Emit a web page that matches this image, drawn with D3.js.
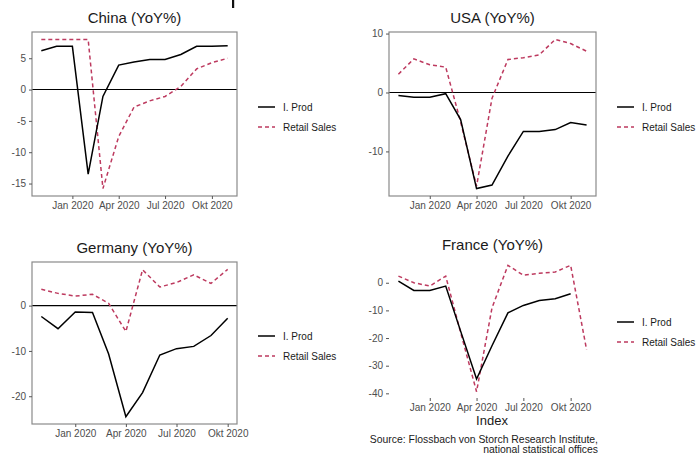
<!DOCTYPE html>
<html>
<head>
<meta charset="utf-8">
<script src="https://cdn.jsdelivr.net/npm/d3@7"></script>
<style>
  html, body { margin: 0; padding: 0; background: #fff; }
  svg { display: block; font-family: "Liberation Sans", Arial, sans-serif; }
</style>
</head>
<body>
<svg id="chart" width="698" height="456"></svg>
<script>
// ---------- DATA ----------
const monthsFull = ["2019-11","2019-12","2020-01","2020-02","2020-03","2020-04","2020-05","2020-06","2020-07","2020-08","2020-09","2020-10","2020-11"];
const monthsToOct = monthsFull.slice(0, 12);

const chinaProd   = [6.2, 6.9, 6.9, -13.5, -1.1, 3.9, 4.4, 4.8, 4.8, 5.6, 6.9, 6.9, 7.0];
const chinaRetail = [8.0, 8.0, 8.0, 8.0, -15.8, -7.5, -2.8, -1.8, -1.1, 0.5, 3.3, 4.3, 5.0];

const usaProd   = [-0.5, -0.8, -0.8, -0.2, -4.6, -16.3, -15.7, -10.8, -6.6, -6.6, -6.3, -5.1, -5.5];
const usaRetail = [3.1, 5.7, 4.7, 4.3, -5.0, -15.9, -1.0, 5.6, 5.9, 6.4, 9.0, 8.3, 7.0];

const germanyProd   = [-2.4, -5.1, -1.4, -1.5, -10.7, -24.5, -19.2, -10.9, -9.5, -9.0, -6.6, -2.8];
const germanyRetail = [3.6, 2.7, 2.1, 2.5, 0.5, -5.7, 7.9, 4.1, 5.1, 6.8, 4.9, 8.0];

const franceProd   = [0.6, -2.8, -2.8, -1.2, -17.5, -34.8, -22.8, -10.9, -8.2, -6.4, -5.8, -4.0];
const franceRetail = [2.4, 0.0, -1.2, 2.4, -18.0, -39.4, -9.1, 6.3, 2.7, 3.4, 3.9, 6.3, -24.2];

const xTickDates  = ["2020-01","2020-04","2020-07","2020-10"];
const xTickLabels = ["Jan 2020","Apr 2020","Jul 2020","Okt 2020"];

const chinaTicks   = [-15, -10, -5, 0, 5];
const usaTicks     = [-10, 0, 10];
const germanyTicks = [-20, -10, 0];
const franceTicks  = [-40, -30, -20, -10, 0];

const seriesNames = ["I. Prod", "Retail Sales"];
const titles = ["China (YoY%)", "USA (YoY%)", "Germany (YoY%)", "France (YoY%)"];

// ---------- LAYOUT ----------
const svg = d3.select("#chart");
const parse = d3.utcParse("%Y-%m");
const RETAIL = "#bd3a5f";

const panels = [
  { title: titles[0], x0: 32,  x1: 237, y0: 32,  y1: 196, dates: monthsFull, prodDates: monthsFull, prod: chinaProd, retail: chinaRetail, ticks: chinaTicks, box: true, zero: true, legY: 107 },
  { title: titles[1], x0: 389, x1: 596, y0: 32,  y1: 196, dates: monthsFull, prodDates: monthsFull, prod: usaProd, retail: usaRetail, ticks: usaTicks, box: true, zero: true, legY: 107 },
  { title: titles[2], x0: 32,  x1: 237, y0: 262, y1: 424, dates: monthsToOct, prodDates: monthsToOct, prod: germanyProd, retail: germanyRetail, ticks: germanyTicks, box: true, zero: true, legY: 336 },
  { title: titles[3], x0: 389, x1: 596, y0: 259, y1: 398, dates: monthsFull, prodDates: monthsToOct, prod: franceProd, retail: franceRetail, ticks: franceTicks, box: false, zero: false, legY: 322 }
];

panels.forEach(p => {
  const allDates = p.dates.map(parse);
  const [dmin, dmax] = d3.extent(allDates);
  const span = dmax - dmin;
  const x = d3.scaleUtc()
    .domain([new Date(+dmin - 0.05 * span), new Date(+dmax + 0.05 * span)])
    .range([p.x0, p.x1]);

  const vals = p.prod.concat(p.retail);
  const [vmin, vmax] = d3.extent(vals);
  const vs = vmax - vmin;
  const y = d3.scaleLinear()
    .domain([vmin - 0.05 * vs, vmax + 0.05 * vs])
    .range([p.y1, p.y0]);

  const g = svg.append("g");

  // title
  g.append("text")
    .attr("x", (p.x0 + p.x1) / 2)
    .attr("y", p.y0 - 9)
    .attr("text-anchor", "middle")
    .attr("font-size", 15)
    .attr("fill", "#1a1a1a")
    .text(p.title);

  // zero line
  if (p.zero) {
    g.append("line")
      .attr("x1", p.x0).attr("x2", p.x1)
      .attr("y1", y(0)).attr("y2", y(0))
      .attr("stroke", "#000").attr("stroke-width", 1.1);
  }

  // lines
  const line = d3.line().x(d => x(d[0])).y(d => y(d[1]));
  const prodData = p.prodDates.map((d, i) => [parse(d), p.prod[i]]);
  const retailData = p.dates.map((d, i) => [parse(d), p.retail[i]]);

  g.append("path").datum(retailData)
    .attr("d", line).attr("fill", "none")
    .attr("stroke", RETAIL).attr("stroke-width", 1.5)
    .attr("stroke-dasharray", "4,3");

  g.append("path").datum(prodData)
    .attr("d", line).attr("fill", "none")
    .attr("stroke", "#000").attr("stroke-width", 1.5);

  // box
  if (p.box) {
    g.append("rect")
      .attr("x", p.x0).attr("y", p.y0)
      .attr("width", p.x1 - p.x0).attr("height", p.y1 - p.y0)
      .attr("fill", "none").attr("stroke", "#8a8a8a").attr("stroke-width", 1.2);
  }

  // axes
  const xAxis = d3.axisBottom(x)
    .tickValues(xTickDates.map(parse))
    .tickFormat((d, i) => xTickLabels[i])
    .tickSize(3).tickPadding(3);
  const xg = g.append("g").attr("transform", `translate(0,${p.y1})`).call(xAxis);

  const yAxis = d3.axisLeft(y)
    .tickValues(p.ticks)
    .tickFormat(d => String(d))
    .tickSize(3).tickPadding(3);
  const yg = g.append("g").attr("transform", `translate(${p.x0},0)`).call(yAxis);

  [xg, yg].forEach(ax => {
    ax.select(".domain").remove();
    ax.selectAll(".tick line").attr("stroke", "#555");
    ax.selectAll(".tick text").attr("fill", "#4d4d4d").attr("font-size", 10)
      .attr("font-family", "'Liberation Sans', Arial, sans-serif");
  });

  // legend
  const lx = p.x1 + 21;
  seriesNames.forEach((name, i) => {
    const ly = p.legY + i * 20;
    g.append("line")
      .attr("x1", lx).attr("x2", lx + 17)
      .attr("y1", ly).attr("y2", ly)
      .attr("stroke", i === 0 ? "#000" : RETAIL)
      .attr("stroke-width", 1.5)
      .attr("stroke-dasharray", i === 0 ? null : "4,3");
    g.append("text")
      .attr("x", lx + 25).attr("y", ly + 3.5)
      .attr("font-size", 10).attr("fill", "#1a1a1a")
      .text(name);
  });
});

// x-axis title and caption (France panel)
svg.append("text")
  .attr("x", 492).attr("y", 425)
  .attr("text-anchor", "middle").attr("font-size", 13).attr("fill", "#1a1a1a")
  .text("Index");
svg.append("text")
  .attr("x", 598).attr("y", 443)
  .attr("text-anchor", "end").attr("font-size", 10.4).attr("fill", "#1a1a1a")
  .text("Source: Flossbach von Storch Research Institute,");
svg.append("text")
  .attr("x", 598).attr("y", 453)
  .attr("text-anchor", "end").attr("font-size", 10.4).attr("fill", "#1a1a1a")
  .text("national statistical offices");

// cut-off fragment of the main title at the top edge
svg.append("rect").attr("x", 232).attr("y", 0).attr("width", 2.2).attr("height", 8).attr("fill", "#111");
</script>
</body>
</html>
